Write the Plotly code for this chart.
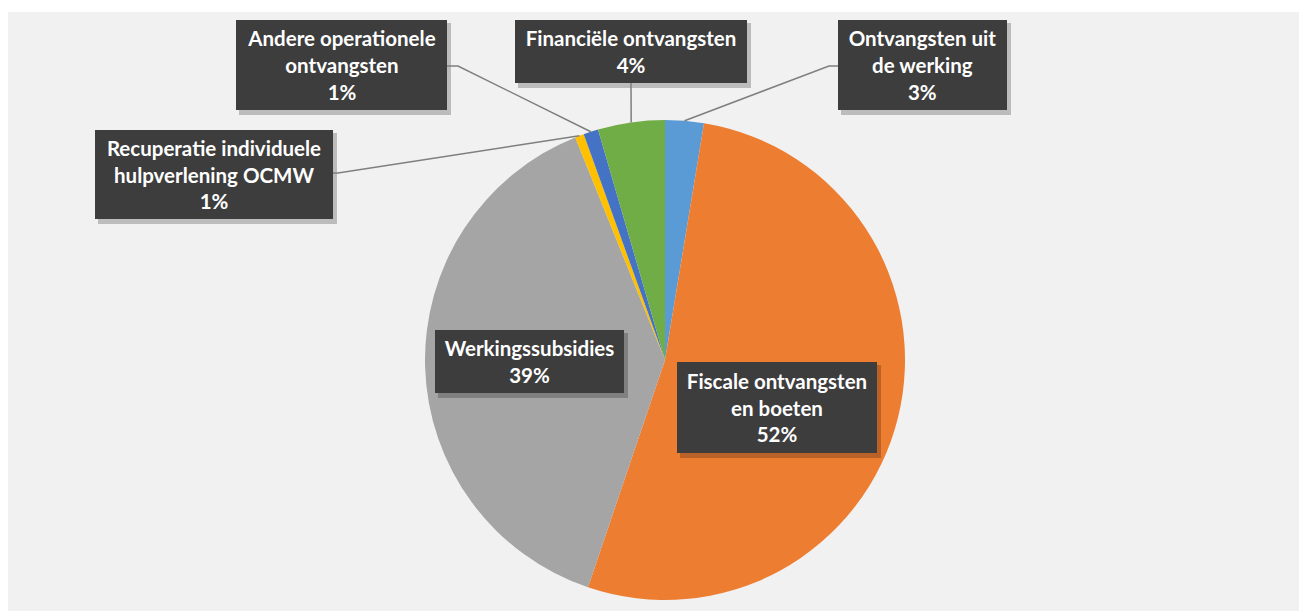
import math
import plotly.graph_objects as go

# page offset of the plot div (browser body margin)
OFF = 8
W, H = 1307 - OFF, 611 - OFF

# ---- data ----
categories = [
    "Ontvangsten uit de werking",
    "Fiscale ontvangsten en boeten",
    "Werkingssubsidies",
    "Recuperatie individuele hulpverlening OCMW",
    "Andere operationele ontvangsten",
    "Financiële ontvangsten",
]
values = [2.6, 52.6, 38.7, 0.6, 1.0, 4.5]
pct_labels = ["3%", "52%", "39%", "1%", "1%", "4%"]
label_texts = [
    "Ontvangsten uit<br>de werking",
    "Fiscale ontvangsten<br>en boeten",
    "Werkingssubsidies",
    "Recuperatie individuele<br>hulpverlening OCMW",
    "Andere operationele<br>ontvangsten",
    "Financiële ontvangsten",
]
colors = ["#5b9bd5", "#ed7d31", "#a5a5a5", "#ffc000", "#4472c4", "#70ad47"]

# ---- layout helpers (page pixel -> paper) ----
def px(x):
    return (x - OFF) / W

def py(y):
    return 1 - (y - OFF) / H

CX, CY, R = 665, 360, 240

# label boxes: (left, top, right, bottom) in page pixels
boxes = [
    (838, 20, 1007, 110),
    (677, 362, 877, 453),
    (435, 330, 624, 393),
    (95, 130, 333, 219),
    (236, 20, 447, 110),
    (515, 20, 747, 83),
]
# leader line start points (page pixel) on the box edge, with elbow; None = no leader
leader_start = [
    [(838, 66), (829, 66)],
    None,
    None,
    [(333, 173), (338, 173)],
    [(447, 66), (458, 66)],
    [(631, 83)],
]

fig = go.Figure()
fig.add_trace(go.Pie(
    labels=categories,
    values=values,
    sort=False,
    direction="clockwise",
    rotation=0,
    marker=dict(colors=colors, line=dict(width=0)),
    textinfo="none",
    hoverinfo="label+percent",
    showlegend=False,
    domain=dict(x=[px(CX - R), px(CX + R)], y=[py(CY + R), py(CY - R)]),
))

shapes = [
    dict(type="rect", xref="paper", yref="paper", x0=0, x1=1, y0=py(12), y1=1,
         fillcolor="white", line=dict(width=0), layer="below"),
]
annotations = []

total = sum(values)
cum = 0
for i, v in enumerate(values):
    mid = (cum + v / 2) / total * 2 * math.pi
    cum += v
    ex = CX + R * math.sin(mid)
    ey = CY - R * math.cos(mid)
    l, t, r, b = boxes[i]
    # shadow
    shapes.append(dict(type="rect", xref="paper", yref="paper",
                       x0=px(l + 3), x1=px(r + 4), y0=py(b + 5), y1=py(t + 3),
                       fillcolor="rgba(0,0,0,0.22)", line=dict(width=0), layer="above"))
    if leader_start[i]:
        pts = leader_start[i] + [(ex, ey)]
        path = "M " + " L ".join(f"{px(x):.5f},{py(y):.5f}" for x, y in pts)
        shapes.append(dict(type="path", xref="paper", yref="paper", path=path,
                           line=dict(color="#7f7f7f", width=1.5), layer="above"))
    annotations.append(dict(
        xref="paper", yref="paper",
        x=px((l + r) / 2), y=py((t + b) / 2),
        xanchor="center", yanchor="middle",
        width=r - l, height=b - t,
        text=f"<b>{label_texts[i]}<br>{pct_labels[i]}</b>",
        showarrow=False,
        align="center", valign="middle",
        bgcolor="#3d3d3d", borderpad=0, borderwidth=0,
        font=dict(family="Lato, Open Sans, sans-serif", size=20.5, color="white"),
    ))

fig.update_layout(
    width=W, height=H,
    margin=dict(l=0, r=0, t=0, b=0),
    paper_bgcolor="#f2f1f1",
    plot_bgcolor="#f2f1f1",
    shapes=shapes,
    annotations=annotations,
)

fig.write_html("out.html")
